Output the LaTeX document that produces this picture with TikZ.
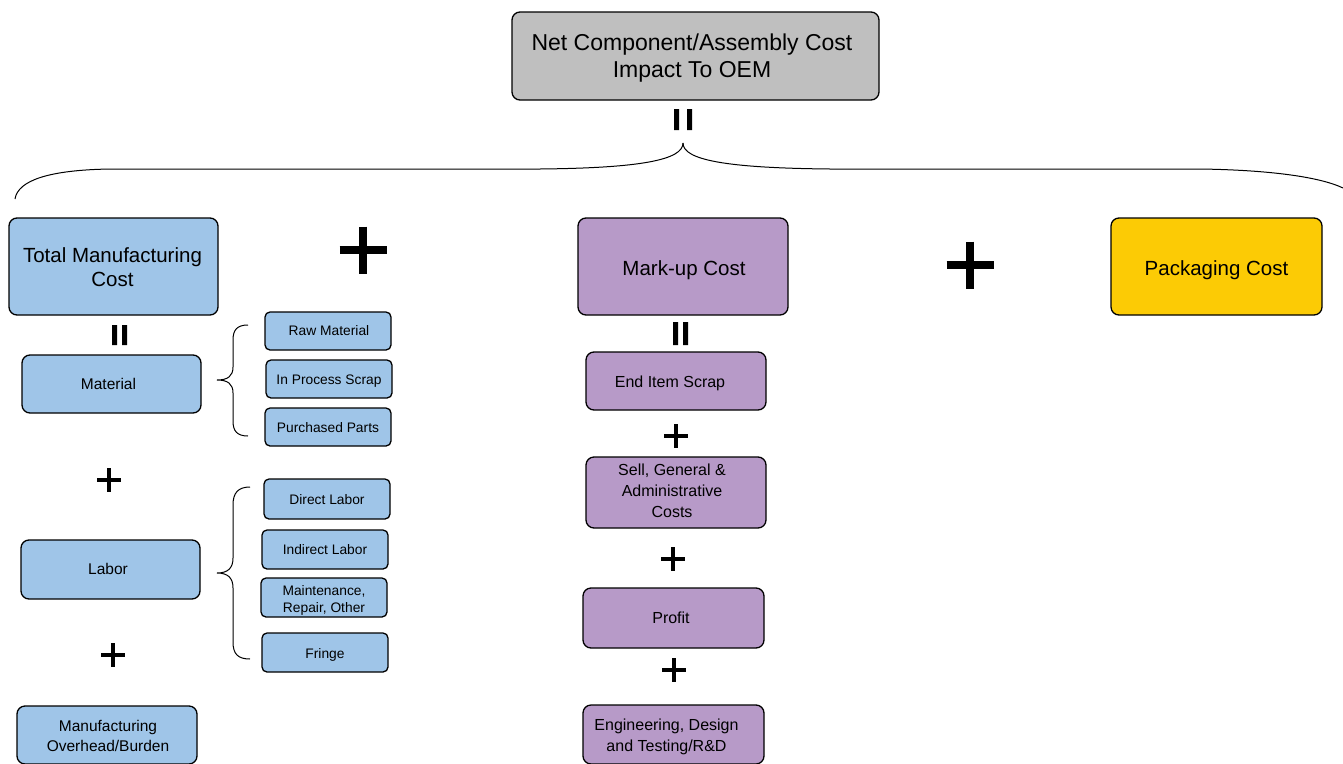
\documentclass[tikz,border=0pt]{standalone}
\usepackage{fontspec}
\setmainfont{Liberation Sans}
\definecolor{cblue}{HTML}{9FC5E8}
\definecolor{cpurple}{HTML}{B79AC8}
\definecolor{cyellow}{HTML}{FCCB05}
\definecolor{cgray}{HTML}{BFBFBF}
% text block shifted down by #1 and right by #2 without changing its extents
\newcommand\tx[3]{\raisebox{-#1}[\height][\depth]{\hspace*{#2}\begin{tabular}{@{}c@{}}#3\end{tabular}\hspace*{-#2}}}
\tikzset{
  box/.style={draw=black, line width=1.3pt, rounded corners=8pt, inner sep=0pt},
  sbox/.style={box, rounded corners=5pt, fill=cblue, minimum width=126pt, minimum height=38pt, font=\fontsize{13.8}{17}\selectfont},
  bluebox/.style={box, fill=cblue},
  purplebox/.style={box, fill=cpurple},
  bigtxt/.style={font=\fontsize{20.5}{24}\selectfont},
  midtxt/.style={font=\fontsize{15.5}{20}\selectfont},
  ptxt/.style={font=\fontsize{16}{21}\selectfont},
  bigplus/.style={line width=8pt},
  smallplus/.style={line width=4.5pt},
  bracel/.style={line width=1pt}
}
\begin{document}
\begin{tikzpicture}[x=1pt,y=-1pt]
\useasboundingbox (0,0) rectangle (1343,763);
% top
\node[box, fill=cgray, minimum width=367pt, minimum height=88pt, font=\fontsize{23}{27}\selectfont] (top) at (695.5,56) {\tx{3pt}{-3.5pt}{Net Component/Assembly Cost\\Impact To OEM}};
\fill (674,109) rectangle (679,130) (687,109) rectangle (692,130);
% top brace
\coordinate (btip) at (683,143);
\coordinate (bl) at (15,199);
\coordinate (br) at (1343,188);
\draw[bracel] (bl) .. controls (18,180) and (50,170) .. (110,169) -- (540,169) .. controls (640,168) and (683,160) .. (btip);
\draw[bracel] (btip) .. controls (683,160) and (726,168) .. (830,169) -- (1200,169) .. controls (1270,170) and (1320,177) .. (br);
% main boxes
\node[bluebox, bigtxt, minimum width=209pt, minimum height=97pt] (tmc) at (113.5,266.5) {\tx{3pt}{-1pt}{Total Manufacturing\\Cost}};
\node[purplebox, bigtxt, minimum width=210pt, minimum height=97pt] (markup) at (683,266.5) {\tx{4.5pt}{1pt}{Mark-up Cost}};
\node[box, fill=cyellow, bigtxt, minimum width=211pt, minimum height=97pt] (pack) at (1216.5,266.5) {\tx{4.5pt}{0pt}{Packaging Cost}};
\draw[bigplus] (339.5,250) -- (386.5,250) (363,226.5) -- (363,273.5);
\draw[bigplus] (946.5,265) -- (993.5,265) (970,241.5) -- (970,288.5);
% left column
\fill (112,325) rectangle (117,345) (122,325) rectangle (127,345);
\node[bluebox, midtxt, minimum width=179pt, minimum height=58pt] (mat) at (111.5,384) {\tx{1pt}{-3pt}{Material}};
\draw[smallplus] (97,480) -- (121,480) (109,468) -- (109,492);
\node[bluebox, midtxt, minimum width=179pt, minimum height=59pt] (lab) at (110.5,569.5) {\tx{1pt}{-2.5pt}{Labor}};
\draw[smallplus] (101,655) -- (125,655) (113,643) -- (113,667);
\node[bluebox, midtxt, minimum width=180pt, minimum height=58pt] (ovh) at (107,735) {\tx{2pt}{1pt}{Manufacturing\\Overhead/Burden}};
% material details
\node[sbox] (raw) at (328,331) {\tx{1pt}{1pt}{Raw Material}};
\node[sbox] (ips) at (329,379) {\tx{2pt}{0pt}{In Process Scrap}};
\node[sbox] (pp) at (328,427) {\tx{2pt}{0pt}{Purchased Parts}};
\draw[bracel] (248,325) .. controls (237,325) and (233,330) .. (233,340) -- (233,367) .. controls (233,376) and (228,380) .. (217,380)
  .. controls (228,380) and (233,384) .. (233,393) -- (233,421) .. controls (233,431) and (237,436) .. (248,436);
% labor details
\node[sbox, minimum height=40pt] (dl) at (327,499) {\tx{2pt}{0pt}{Direct Labor}};
\node[sbox, minimum height=39pt] (il) at (325,549.5) {\tx{2pt}{0pt}{Indirect Labor}};
\node[sbox, minimum height=39pt] (mro) at (324,597.5) {\tx{3pt}{0pt}{Maintenance,\\Repair, Other}};
\node[sbox, minimum height=39pt] (fr) at (325,652.5) {\tx{3pt}{0pt}{Fringe}};
\draw[bracel] (250,487) .. controls (238,487) and (233,493) .. (233,505) -- (233,558) .. controls (233,568) and (228,573) .. (217,573)
  .. controls (228,573) and (233,578) .. (233,588) -- (233,642) .. controls (233,654) and (238,659) .. (250,659);
% markup column
\fill (673,322) rectangle (678,345) (683,322) rectangle (688,345);
\node[purplebox, ptxt, minimum width=180pt, minimum height=58pt] (eis) at (676,381) {\tx{2pt}{-6pt}{End Item Scrap}};
\draw[smallplus] (664,436) -- (688,436) (676,424) -- (676,448);
\node[purplebox, ptxt, minimum width=180pt, minimum height=71pt] (sga) at (676,492.5) {\tx{0pt}{-4pt}{Sell, General \&\\Administrative\\Costs}};
\draw[smallplus] (661,559) -- (685,559) (673,547) -- (673,571);
\node[purplebox, ptxt, minimum width=181pt, minimum height=60pt] (prof) at (673.5,618) {\tx{1pt}{-2.5pt}{Profit}};
\draw[smallplus] (662,670) -- (686,670) (674,658) -- (674,682);
\node[purplebox, ptxt, minimum width=181pt, minimum height=59pt] (eng) at (673.5,734.5) {\tx{2pt}{-7pt}{Engineering, Design\\and Testing/R\&D}};
\end{tikzpicture}
\end{document}
